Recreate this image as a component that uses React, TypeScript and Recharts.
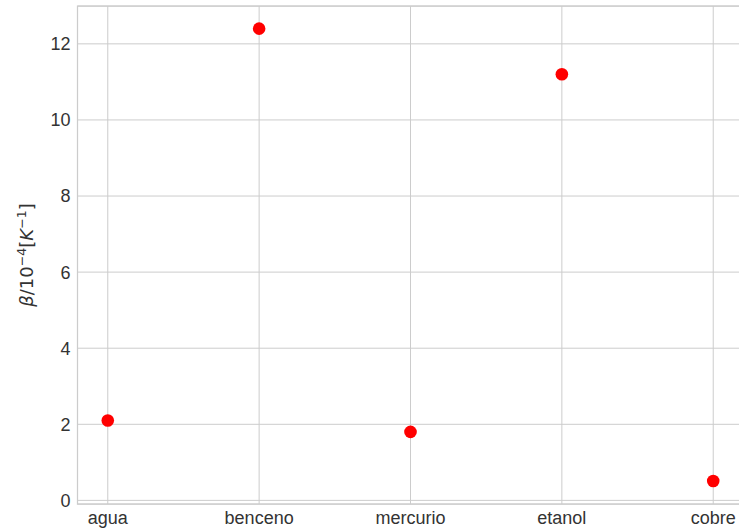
import { ScatterChart, Scatter, XAxis, YAxis, CartesianGrid, ReferenceArea } from 'recharts';

const categories = ['agua', 'benceno', 'mercurio', 'etanol', 'cobre'];
const betaValues = [2.1, 12.4, 1.8, 11.2, 0.51];
const yTicks = [0, 2, 4, 6, 8, 10, 12];
const xTicks = [0, 1, 2, 3, 4];

const X_DOMAIN: [number, number] = [-0.2, 4.2];
const Y_DOMAIN: [number, number] = [-0.095, 12.995];

const GRID = '#cccccc';
const TEXT = '#333333';
const TICK_FONT = { fontSize: 18, fill: TEXT, fontFamily: '"Liberation Sans", Arial, sans-serif' };

const data = categories.map((name, i) => ({ x: i, y: betaValues[i], name }));

function YLabel() {
  const cx = 33;
  const cy = 255;
  return (
    <text
      x={cx}
      y={cy}
      transform={`rotate(-90, ${cx}, ${cy})`}
      textAnchor="middle"
      fill={TEXT}
      fontSize={18}
      fontFamily='"DejaVu Sans", sans-serif'
    >
      <tspan fontStyle="italic">β</tspan>
      <tspan>/10</tspan>
      <tspan fontSize={12.6} dy={-7}>−4</tspan>
      <tspan dy={7}>[</tspan>
      <tspan fontStyle="italic">K</tspan>
      <tspan fontSize={12.6} dy={-7}>−1</tspan>
      <tspan dy={7}>]</tspan>
    </text>
  );
}

export default function App() {
  return (
    <div style={{ position: 'fixed', left: 0, top: 0, width: 739, height: 529, overflow: 'hidden', background: '#fff' }}>
      <ScatterChart width={760} height={529} margin={{ top: 6, right: 16.5, bottom: 0, left: 0 }}>
        <CartesianGrid stroke={GRID} strokeWidth={1} />
        <ReferenceArea
          x1={X_DOMAIN[0]}
          x2={X_DOMAIN[1]}
          y1={Y_DOMAIN[0]}
          y2={Y_DOMAIN[1]}
          fill="none"
          stroke={GRID}
          strokeWidth={1.25}
          ifOverflow="visible"
        />
        <XAxis
          type="number"
          dataKey="x"
          domain={X_DOMAIN}
          ticks={xTicks}
          tickFormatter={(v: number) => categories[v] ?? ''}
          allowDataOverflow
          axisLine={false}
          tickLine={false}
          tickSize={0}
          tickMargin={7}
          height={25}
          interval={0}
          tick={TICK_FONT}
        />
        <YAxis
          type="number"
          dataKey="y"
          domain={Y_DOMAIN}
          ticks={yTicks}
          allowDataOverflow
          axisLine={false}
          tickLine={false}
          tickSize={0}
          tickMargin={7}
          width={77.5}
          interval={0}
          tick={TICK_FONT}
          label={<YLabel />}
        />
        <Scatter
          data={data}
          isAnimationActive={false}
          shape={(p: any) => <circle cx={p.cx} cy={p.cy} r={6.3} fill="#ff0000" />}
        />
      </ScatterChart>
    </div>
  );
}
